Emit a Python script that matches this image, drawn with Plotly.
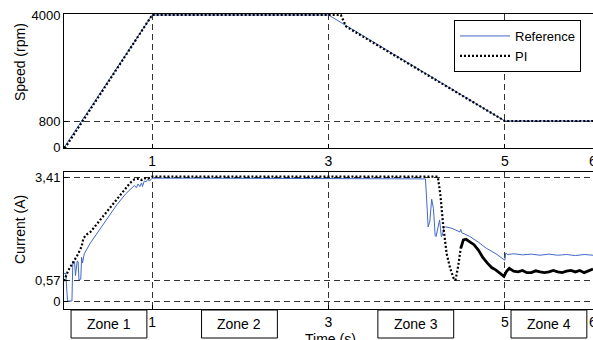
import numpy as np
import plotly.graph_objects as go
from plotly.subplots import make_subplots

# ---- speed profile (rpm) ----
t_speed_ref = [0, 1, 3, 5, 6]
speed_ref = [0, 4000, 4000, 800, 800]

t_speed_pi = [0, 0.02, 1.0, 3.0, 3.14, 3.2, 5.0, 6.0]
speed_pi = [0, 20, 4000, 4000, 4000, 3650, 800, 800]

# ---- phase current (A) ----
t_cur_ref = [0, 0.02, 0.04, 0.09, 0.10, 0.12, 0.13, 0.15, 0.16, 0.17, 0.19, 0.20,
             0.21, 0.23, 0.30, 0.40, 0.50, 0.60, 0.70, 0.78, 0.80, 0.82, 0.84,
             0.86, 0.88, 0.89, 0.91, 0.93, 0.95, 0.97, 1.00, 1.5, 2.0, 2.5, 3.0,
             3.5, 4.0, 4.10, 4.12, 4.13, 4.15, 4.17, 4.19, 4.21, 4.22, 4.24, 4.26,
             4.27, 4.28, 4.29, 4.31, 4.33, 4.40, 4.49, 4.50, 4.51, 4.52, 4.60,
             4.70, 4.79, 4.90, 4.99, 5.00, 5.01, 5.03, 5.10, 5.20, 5.30, 5.40,
             5.50, 5.60, 5.70, 5.80, 5.90, 6.00]
cur_ref = [0.76, 0.76, 0.0, 0.0, 1.08, 1.08, 0.70, 1.10, 1.08, 0.58, 0.60, 1.20,
           1.05, 1.30, 1.60, 1.95, 2.30, 2.65, 2.95, 3.12, 3.18, 3.12, 3.22,
           3.15, 3.25, 3.15, 3.30, 3.28, 3.35, 3.30, 3.38, 3.38, 3.38, 3.38, 3.38,
           3.38, 3.38, 3.36, 2.50, 2.04, 2.20, 2.80, 2.55, 1.80, 1.77, 2.00, 2.23,
           2.00, 1.77, 1.80, 2.03, 2.04, 2.00, 1.90, 1.97, 1.88, 1.87, 1.78,
           1.62, 1.45, 1.30, 1.13, 1.12, 1.32, 1.28, 1.30, 1.27, 1.29, 1.26,
           1.29, 1.26, 1.28, 1.25, 1.28, 1.26]

t_cur_pi = [0, 0.05, 0.10, 0.15, 0.20, 0.22, 0.25, 0.30, 0.40, 0.50, 0.60, 0.70,
            0.75, 0.80, 0.85, 0.88, 0.92, 0.95, 1.00, 1.5, 2.0, 2.5, 3.0, 3.5,
            4.0, 4.24, 4.27, 4.30, 4.34, 4.38, 4.42, 4.44, 4.47, 4.50, 4.53, 4.56,
            4.60, 4.65, 4.70, 4.75, 4.80, 4.85, 4.90, 4.95, 4.99, 5.02, 5.05,
            5.10, 5.15, 5.20, 5.25, 5.30, 5.35, 5.40, 5.45, 5.50, 5.55, 5.60,
            5.65, 5.70, 5.75, 5.80, 5.85, 5.90, 5.95, 6.00]
cur_pi = [0.55, 0.85, 1.05, 1.25, 1.50, 1.72, 1.82, 1.90, 2.20, 2.50, 2.82, 3.10,
          3.25, 3.35, 3.37, 3.33, 3.38, 3.36, 3.42, 3.42, 3.42, 3.42, 3.43, 3.42,
          3.42, 3.42, 2.90, 2.10, 1.30, 0.90, 0.62, 0.57, 0.95, 1.45, 1.68, 1.70,
          1.63, 1.55, 1.40, 1.20, 1.05, 0.92, 0.85, 0.75, 0.68, 0.82, 0.90,
          0.82, 0.80, 0.84, 0.78, 0.78, 0.83, 0.80, 0.78, 0.80, 0.84, 0.80,
          0.78, 0.82, 0.84, 0.80, 0.84, 0.78, 0.82, 0.88]

speed_ticks = [0, 800, 4000]
current_ticks = [0, 0.57, 3.41]
current_tick_text = ["0", "0,57", "3,41"]
time_ticks = [1, 3, 5, 6]

zone_labels = ["Zone 1", "Zone 2", "Zone 3", "Zone 4"]
zone_centers = [0.51, 1.99, 3.99, 5.50]
zone_halfwidth = 0.43

BLUE = "#4268c8"
FONT = "Liberation Sans, Arial, sans-serif"

fig = make_subplots(rows=2, cols=1)

fig.add_trace(go.Scatter(x=t_speed_ref, y=speed_ref, mode="lines", name="Reference",
                         line=dict(color=BLUE, width=1)), row=1, col=1)
fig.add_trace(go.Scatter(x=t_speed_pi, y=speed_pi, mode="lines", name="PI",
                         line=dict(color="black", width=2.2, dash="2px,2px")), row=1, col=1)

fig.add_trace(go.Scatter(x=t_cur_ref, y=cur_ref, mode="lines", showlegend=False,
                         line=dict(color=BLUE, width=1)), row=2, col=1)

# PI current: dotted transient, dense (solid-looking) steady tail after 4.5 s
tp = np.array(t_cur_pi)
cp = np.array(cur_pi)
head = tp <= 4.50
tail = tp >= 4.50
fig.add_trace(go.Scatter(x=tp[head], y=cp[head], mode="lines", showlegend=False,
                         line=dict(color="black", width=2.2, dash="2px,2px")), row=2, col=1)
fig.add_trace(go.Scatter(x=tp[tail], y=cp[tail], mode="lines", showlegend=False,
                         line=dict(color="black", width=2.8)), row=2, col=1)

x_dom = [64 / 593, 1.0]
axis_common = dict(showline=True, linecolor="black", linewidth=1, mirror=True,
                   ticks="inside", ticklen=4, tickcolor="black", showgrid=True,
                   gridcolor="#333333", gridwidth=1, griddash="6px,4px",
                   zeroline=False, automargin=False,
                   tickfont=dict(family=FONT, size=13, color="black"))

fig.update_xaxes(**axis_common)
fig.update_yaxes(**axis_common)

fig.update_xaxes(range=[0, 6], domain=x_dom, tickvals=time_ticks,
                 ticklabeloverflow="allow", tickfont=dict(size=14), row=1, col=1)
fig.update_xaxes(range=[0, 6], domain=x_dom, tickvals=time_ticks,
                 ticklabeloverflow="allow", tickfont=dict(size=14), row=2, col=1)
fig.update_yaxes(range=[-15, 4030], domain=[1 - 148 / 340, 1 - 14 / 340],
                 tickvals=speed_ticks, row=1, col=1)
fig.update_yaxes(range=[-0.22, 3.55], domain=[1 - 309 / 340, 1 - 172 / 340],
                 tickvals=current_ticks, ticktext=current_tick_text, row=2, col=1)

shapes = []
annotations = []
for lab, c in zip(zone_labels, zone_centers):
    shapes.append(dict(type="rect", xref="x2", yref="paper",
                       x0=c - zone_halfwidth, x1=c + zone_halfwidth,
                       y0=1 - 338 / 340, y1=1 - 310 / 340,
                       line=dict(color="black", width=1), fillcolor="white", layer="above"))
    annotations.append(dict(text=lab, xref="x2", yref="paper", x=c, y=1 - 324 / 340,
                            xanchor="center", yanchor="middle", showarrow=False,
                            font=dict(family=FONT, size=14, color="black")))

annotations.append(dict(text="Time (s)", xref="paper", yref="paper", x=330 / 593,
                        y=1 - 329 / 340, xanchor="center", yanchor="top", showarrow=False,
                        font=dict(family=FONT, size=14, color="black")))
annotations.append(dict(text="Speed (rpm)", xref="paper", yref="paper", x=20 / 593,
                        y=1 - 62 / 340, xanchor="center", yanchor="middle",
                        textangle=-90, showarrow=False,
                        font=dict(family=FONT, size=14, color="black")))
annotations.append(dict(text="Current (A)", xref="paper", yref="paper", x=20 / 593,
                        y=1 - 230 / 340, xanchor="center", yanchor="middle",
                        textangle=-90, showarrow=False,
                        font=dict(family=FONT, size=14, color="black")))

fig.update_layout(
    width=593, height=340,
    margin=dict(l=0, r=0, t=0, b=0, pad=0, autoexpand=False),
    paper_bgcolor="white", plot_bgcolor="white",
    font=dict(family=FONT, size=14, color="black"),
    shapes=shapes, annotations=annotations,
    legend=dict(x=454 / 593, y=1 - 20 / 340, xanchor="left", yanchor="top",
                bordercolor="black", borderwidth=1, bgcolor="white",
                font=dict(family=FONT, size=13, color="black"),
                itemwidth=50, tracegroupgap=0),
)

fig.write_html("out.html")
